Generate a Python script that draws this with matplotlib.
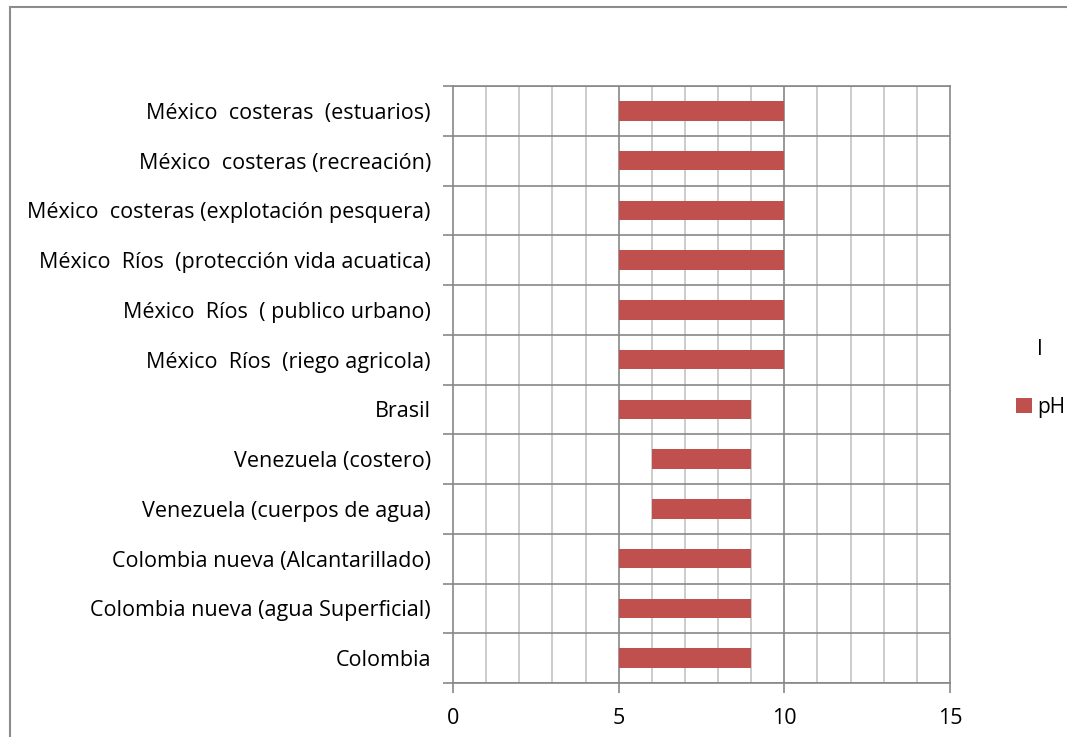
import numpy as np
import matplotlib.pyplot as plt
from matplotlib.patches import Rectangle

plt.rcParams['font.family'] = ['Open Sans', 'DejaVu Sans']

# datos (de abajo hacia arriba)
paises = ["Colombia",
          "Colombia nueva (agua Superficial)",
          "Colombia nueva (Alcantarillado)",
          "Venezuela (cuerpos de agua)",
          "Venezuela (costero)",
          "Brasil",
          "México  Ríos  (riego agricola)",
          "México  Ríos  ( publico urbano)",
          "México  Ríos  (protección vida acuatica)",
          "México  costeras (explotación pesquera)",
          "México  costeras (recreación)",
          "México  costeras  (estuarios)"]
ph_min = [5, 5, 5, 6, 6, 5, 5, 5, 5, 5, 5, 5]
ph_max = [9, 9, 9, 9, 9, 9, 10, 10, 10, 10, 10, 10]
rango = [b - a for a, b in zip(ph_min, ph_max)]

grid_dark = "#878787"
grid_light = "#c4c4c4"
rojo = "#C0504D"
fs = 15.5

fig = plt.figure(figsize=(10.67, 7.37), dpi=100)
ax = fig.add_axes([453/1067, 1 - 683/737, 497/1067, 597/737])

y = np.arange(len(paises))
ax.barh(y, ph_min, height=0.39, color="none", label="I")
ax.barh(y, rango, left=ph_min, height=0.39, color=rojo, label="pH", zorder=3)

ax.set_xlim(0, 15)
ax.set_ylim(-0.5, len(paises) - 0.5)

# eje x
ax.set_xticks([0, 5, 10, 15])
ax.set_xticks(np.arange(0, 16, 1), minor=True)
ax.tick_params(axis="x", which="major", length=7, width=1.2, color=grid_dark,
               labelsize=fs, pad=11)
ax.tick_params(axis="x", which="minor", length=0)

# eje y
ax.set_yticks(np.arange(-0.5, len(paises), 1))
ax.set_yticklabels([])
ax.set_yticks(y, minor=True)
ax.set_yticklabels(paises, minor=True)
ax.tick_params(axis="y", which="major", length=7, width=1.2, color=grid_dark)
ax.tick_params(axis="y", which="minor", length=0, labelsize=fs, pad=16)

# rejilla
for v in range(1, 15):
    ax.axvline(v, color=grid_dark if v % 5 == 0 else grid_light, lw=1.2, zorder=1)
ax.grid(axis="y", which="major", color=grid_dark, lw=1.2, zorder=1)
for s in ax.spines.values():
    s.set_color(grid_dark)
    s.set_linewidth(1.2)

ax.legend(loc="center left", bbox_to_anchor=(1.095, 0.51), frameon=False,
          fontsize=15, labelspacing=1.75, handlelength=0.75, handleheight=0.75,
          handletextpad=0.25)

# marco exterior
fig.patches.append(Rectangle((10/1067, -0.05), 1.2, 1 - 7/737 + 0.05,
                             transform=fig.transFigure, fill=False,
                             edgecolor="#8c8c8c", lw=1.5))

fig.savefig("out.png", dpi=100)
